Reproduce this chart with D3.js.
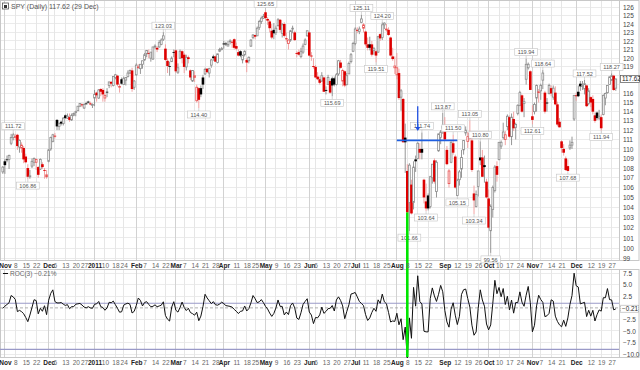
<!DOCTYPE html>
<html><head><meta charset="utf-8">
<script src="https://cdn.jsdelivr.net/npm/d3@7/dist/d3.min.js"></script>
<style>
body{margin:0;background:#fff}
svg{display:block}
text{font-family:"Liberation Sans",Arial,sans-serif}
</style></head>
<body><svg id="c" width="640" height="370"></svg>
<script>
// ---------------- DATA ----------------
const startDate = "2010-10-29", endDate = "2011-12-29";
const holidays = ["2010-11-25","2010-12-24","2011-01-17","2011-02-21","2011-04-22","2011-05-30","2011-07-04","2011-09-05","2011-11-24","2011-12-26"];
// closes of the 3 sessions before the first visible bar (needed by ROC(3))
const priorCloses = [108.2, 107.9, 108.1];
// [open, high, low, close]
const oct10 = [[107.6,108.2,107.4,108.1]];
const nov10 = [[108.7,108.9,107.4,108.3],[108.9,109.3,108.6,108.9],[108.9,109.4,107.9,109.3],[110.6,111.6,110.4,111.2],[111.2,111.72,110.9,111.5],[111.2,111.6,110.9,111.3],[111.5,111.6,109.9,110.3],[110.2,111.0,109.6,110.9],[110.1,110.7,109.6,110.4],[110.1,110.3,108.5,108.9],[109.2,109.5,108.5,108.6],[108.0,108.4,106.86,107.1],[107.1,107.8,106.9,107.2],[108.2,109.0,108.0,108.7],[108.6,109.1,108.2,109.0],[108.6,109.0,107.8,108.9],[108.1,108.2,107.0,107.3],[107.9,109.0,107.8,108.9],[108.4,108.6,107.9,108.1],[107.8,108.0,106.9,107.8],[107.1,107.8,106.9,107.3]];
const dec10 = [[108.7,110.0,108.6,109.9],[110.0,111.3,109.8,111.2],[110.8,111.6,110.7,111.5],[111.4,111.7,111.1,111.4],[113.1,113.2,112.0,112.4],[112.4,112.8,112.0,112.7],[112.9,113.0,112.5,112.7],[112.7,113.4,112.5,113.3],[113.6,113.7,113.2,113.3],[113.3,113.8,113.2,113.5],[113.4,113.8,112.9,113.1],[113.1,113.8,113.0,113.6],[113.6,113.9,113.5,113.8],[113.9,114.1,113.5,114.0],[114.1,114.6,114.1,114.6],[114.6,114.9,114.5,114.9],[114.8,114.9,114.5,114.7],[114.4,114.9,114.3,114.8],[114.9,115.1,114.8,114.9],[115.1,115.2,114.9,115.0],[114.9,115.1,114.7,114.8],[114.7,114.9,114.4,114.8]];
const jan11 = [[115.5,116.4,114.6,115.9],[116.1,116.2,115.1,115.8],[115.5,116.5,115.4,116.4],[116.5,116.6,115.7,116.2],[116.4,116.6,115.1,115.9],[115.5,116.0,115.1,115.8],[116.2,116.6,115.6,116.2],[116.9,117.3,116.6,117.3],[117.3,117.4,116.7,117.1],[116.9,117.9,116.8,117.9],[117.8,118.2,117.6,118.1],[118.0,118.1,116.8,117.0],[116.7,117.1,116.1,116.8],[117.6,117.8,117.0,117.1],[117.0,117.9,117.0,117.7],[117.5,117.8,116.9,117.8],[117.9,118.6,117.8,118.3],[118.3,118.7,118.2,118.6],[118.6,118.9,116.2,116.5],[116.7,117.5,116.4,117.4]];
const feb11 = [[118.1,119.4,118.0,119.2],[118.9,119.3,118.8,119.0],[118.8,119.3,118.2,119.3],[119.3,119.7,118.8,119.7],[119.8,120.6,119.7,120.4],[120.5,120.9,120.1,120.9],[120.6,121.0,120.0,120.6],[120.0,120.7,119.6,120.7],[119.9,121.3,119.8,121.3],[121.3,121.6,121.1,121.4],[121.2,121.4,120.7,121.0],[121.3,122.1,121.2,121.8],[121.6,122.3,121.5,122.1],[122.2,123.03,122.0,122.6],[121.1,121.6,119.7,119.8],[119.7,120.0,118.3,119.1],[119.1,119.6,118.0,119.1],[119.6,120.2,119.6,120.0],[120.7,121.0,120.1,120.7]];
const mar11 = [[120.9,121.0,118.3,118.5],[118.4,119.4,118.2,118.9],[120.0,121.0,119.9,120.8],[120.8,120.9,119.4,120.0],[120.4,120.6,118.3,119.0],[119.0,120.4,118.6,120.1],[120.1,120.3,119.4,119.9],[118.6,118.7,117.5,117.8],[117.4,118.6,117.3,118.6],[117.8,118.5,117.3,118.0],[115.2,117.0,115.0,116.7],[116.6,116.7,114.4,115.3],[116.6,116.9,115.6,115.9],[117.8,118.1,116.5,117.0],[118.2,118.9,118.1,118.7],[118.8,118.8,118.3,118.4],[118.3,118.9,117.8,118.8],[119.2,119.9,118.9,119.8],[120.2,120.4,119.7,120.0],[120.2,120.3,119.6,119.6],[119.5,120.5,119.4,120.5],[120.8,121.2,120.7,121.0],[121.0,121.3,120.9,121.1]];
const apr11 = [[121.7,122.0,121.1,121.6],[121.7,121.9,121.4,121.6],[121.4,122.0,121.4,121.6],[121.9,122.2,121.6,122.0],[121.9,122.1,121.2,121.8],[122.2,122.3,121.0,121.2],[121.4,121.8,120.9,121.1],[120.7,121.0,120.2,120.3],[120.8,120.9,120.1,120.3],[119.8,120.4,119.4,120.3],[120.4,120.9,120.2,120.8],[119.8,120.0,118.4,119.5],[119.7,120.2,119.4,120.1],[121.4,122.2,121.3,122.1],[122.4,122.8,122.2,122.7],[122.7,122.7,122.2,122.5],[122.6,123.7,122.6,123.5],[123.6,124.5,123.3,124.3],[124.3,124.9,124.0,124.7],[124.7,125.2,124.6,124.9]];
const may11 = [[125.4,125.65,124.5,124.7],[124.6,124.8,123.9,124.4],[124.3,124.5,123.0,123.5],[123.2,124.0,122.2,122.4],[123.3,124.1,122.2,122.9],[123.0,123.8,122.7,123.5],[123.8,124.7,123.7,124.5],[124.5,124.6,123.0,123.3],[122.9,124.1,122.4,123.9],[124.0,124.2,122.4,122.6],[122.3,123.0,121.9,122.2],[121.7,122.2,121.0,122.1],[122.1,123.3,121.9,123.2],[123.4,123.8,122.9,123.5],[123.0,123.2,122.0,122.1],[120.6,120.8,120.1,120.5],[120.7,121.0,120.3,120.4],[120.2,121.2,120.0,120.8],[120.7,121.7,120.5,121.4],[121.6,122.3,121.5,122.1],[122.6,123.2,122.5,123.2]];
const jun11 = [[123.0,123.1,120.2,120.3],[120.3,120.7,119.7,120.2],[119.1,120.0,118.8,119.0],[119.0,119.2,117.8,117.8],[117.9,118.4,117.5,117.6],[117.6,117.9,117.0,117.2],[117.4,118.4,117.3,118.0],[117.8,117.9,116.2,116.2],[116.4,116.8,115.9,116.3],[117.0,118.1,117.0,117.8],[117.4,117.6,116.0,116.1],[117.7,117.9,115.69,116.9],[117.7,117.9,116.8,117.0],[117.0,118.3,116.9,118.1],[118.2,119.8,118.0,119.7],[119.5,119.8,118.8,118.9],[117.4,118.8,116.8,118.6],[118.5,118.6,116.7,116.9],[117.0,118.3,116.9,118.0],[118.2,119.6,118.2,119.4],[119.6,120.6,119.4,120.4],[120.8,121.9,120.7,121.7]];
const jul11 = [[121.7,123.6,121.5,123.4],[123.3,123.6,122.9,123.3],[123.1,123.7,122.8,123.4],[124.2,125.11,124.1,124.6],[123.5,124.1,123.0,123.9],[123.1,123.2,121.4,121.6],[121.6,122.4,120.9,121.2],[121.6,122.5,120.9,121.2],[121.6,122.0,120.2,120.4],[120.9,121.3,120.4,121.1],[120.8,120.9,119.51,120.3],[120.7,122.6,120.6,122.5],[122.8,122.9,122.0,122.3],[122.4,124.2,122.1,123.9],[123.9,124.2,123.4,124.1],[123.3,124.0,123.1,123.4],[123.3,123.6,122.6,122.7],[122.4,122.5,120.2,120.3],[120.2,121.2,119.7,119.9],[118.9,120.2,118.2,119.1]];
const aug11 = [[118.1,120.6,117.6,118.9],[118.3,118.8,115.3,115.5],[115.6,116.5,114.1,116.3],[115.4,115.5,110.7,110.7],[111.2,112.7,107.5,110.7],[107.7,108.4,103.4,103.5],[104.5,108.5,101.66,108.3],[106.3,106.8,103.3,103.4],[104.5,108.7,103.8,108.1],[108.9,109.3,107.6,108.7],[109.0,110.7,108.9,110.6],[110.0,110.6,108.9,109.6],[110.0,111.74,108.9,109.6],[106.8,106.9,104.4,105.0],[104.6,106.4,103.64,103.9],[105.2,105.4,103.7,103.9],[104.1,107.2,103.9,107.1],[107.0,108.4,106.4,108.4],[108.8,109.0,106.4,106.6],[105.6,108.8,105.0,108.6],[109.8,111.6,109.7,111.6],[111.2,112.0,110.5,111.8],[112.2,113.87,111.6,112.4]];
const sep11 = [[112.4,113.4,110.9,111.0],[109.9,110.3,108.3,108.4],[106.4,107.9,106.0,107.7],[108.6,110.8,108.5,110.7],[110.6,111.5,109.4,109.6],[109.2,109.4,105.9,106.0],[105.2,106.9,105.15,106.7],[106.8,107.8,106.2,107.6],[107.9,109.9,107.0,109.1],[109.9,110.9,109.4,110.9],[111.7,112.4,111.4,112.0],[110.8,111.8,110.1,111.3],[111.7,113.05,110.9,111.1],[110.9,111.4,107.6,107.8],[105.4,106.2,103.34,104.7],[104.1,105.7,104.0,105.3],[106.1,107.7,105.1,107.7],[109.1,110.8,108.3,108.8],[109.1,109.9,107.1,107.1],[108.3,109.3,106.5,108.1],[106.6,106.9,104.9,105.0]];
const oct11 = [[104.9,105.8,101.9,102.0],[101.7,104.3,99.56,104.1],[103.8,106.2,103.0,106.0],[105.7,108.3,105.5,108.1],[108.2,108.7,106.6,107.3],[108.9,110.7,108.8,110.7],[110.3,110.9,110.0,110.7],[111.2,112.8,111.0,111.8],[111.0,111.9,110.4,111.5],[112.4,113.7,112.0,113.5],[113.4,113.6,111.2,111.3],[111.3,113.8,110.4,113.4],[113.2,114.0,111.9,112.2],[112.3,112.8,111.0,112.6],[113.8,114.8,113.6,114.7],[114.7,116.3,114.6,116.1],[115.8,115.9,113.9,114.0],[114.9,115.5,113.4,115.1],[117.6,119.94,117.0,119.3],[118.9,119.5,118.7,119.3],[118.5,118.6,116.4,116.4]];
const nov11 = [[113.5,114.7,112.61,113.1],[114.0,115.0,113.7,114.8],[115.5,117.0,114.0,116.9],[116.1,116.5,115.0,116.2],[116.3,117.1,115.3,116.9],[117.5,118.64,116.5,118.3],[116.1,116.3,113.8,114.0],[115.0,115.5,114.0,114.9],[116.0,117.1,115.9,116.9],[116.6,116.9,115.7,116.0],[115.6,116.9,115.3,116.6],[116.1,116.8,114.7,114.8],[114.8,115.1,112.4,112.6],[112.9,113.3,112.3,112.3],[110.8,110.9,109.6,110.1],[110.0,110.5,109.3,109.6],[109.0,109.2,107.7,107.8],[108.2,108.9,107.68,107.7],[110.1,110.9,109.9,110.4],[110.4,111.3,110.0,110.7],[113.2,115.8,113.0,115.8]];
const dec11 = [[115.8,116.1,115.2,115.7],[116.2,116.9,115.6,115.7],[117.1,117.4,116.3,116.8],[116.8,117.4,116.4,116.9],[116.5,117.52,115.9,117.1],[116.9,117.0,114.5,114.6],[114.9,116.6,114.7,116.3],[115.6,115.7,114.5,115.0],[115.4,115.8,113.7,114.0],[113.6,113.9,112.8,113.0],[113.9,114.0,113.1,113.3],[113.3,114.2,113.1,113.5],[113.4,113.7,111.94,112.2],[113.7,115.9,113.6,115.8],[115.5,116.1,114.7,116.0],[116.1,116.9,116.0,116.9],[117.0,117.9,117.0,117.87],[117.5,118.27,117.4,118.0],[118.0,118.1,116.3,116.4],[116.6,117.7,116.3,117.62]];

// price labels: [date, "H" high above / "L" low below]
const peakLabels = [["2010-11-05","H"],["2010-11-16","L"],["2011-02-18","H"],["2011-03-16","L"],["2011-05-02","H"],["2011-06-16","L"],["2011-07-07","H"],["2011-07-18","L"],["2011-07-21","H"],["2011-08-09","L"],["2011-08-17","H"],["2011-08-19","L"],["2011-08-31","H"],["2011-09-08","H"],["2011-09-12","L"],["2011-09-20","H"],["2011-09-22","L"],["2011-09-27","H"],["2011-10-04","L"],["2011-10-27","H"],["2011-11-01","L"],["2011-11-08","H"],["2011-11-25","L"],["2011-12-07","H"],["2011-12-19","L"],["2011-12-27","H"]];

// date axis tick labels
const xTicks = [["2010-11-01","Nov"],["2010-11-08","8"],["2010-11-15","15"],["2010-11-22","22"],["2010-12-01","Dec"],["2010-12-06","6"],["2010-12-13","13"],["2010-12-20","20"],["2010-12-27","27"],["2011-01-03","2011"],["2011-01-10","10"],["2011-01-18","18"],["2011-01-24","24"],["2011-02-01","Feb"],["2011-02-07","7"],["2011-02-14","14"],["2011-02-22","22"],["2011-03-01","Mar"],["2011-03-07","7"],["2011-03-14","14"],["2011-03-21","21"],["2011-03-28","28"],["2011-04-01","Apr"],["2011-04-11","11"],["2011-04-18","18"],["2011-04-25","25"],["2011-05-02","May"],["2011-05-09","9"],["2011-05-16","16"],["2011-05-23","23"],["2011-06-01","Jun"],["2011-06-06","6"],["2011-06-13","13"],["2011-06-20","20"],["2011-06-27","27"],["2011-07-01","Jul"],["2011-07-11","11"],["2011-07-18","18"],["2011-07-25","25"],["2011-08-01","Aug"],["2011-08-08","8"],["2011-08-15","15"],["2011-08-22","22"],["2011-09-01","Sep"],["2011-09-12","12"],["2011-09-19","19"],["2011-09-26","26"],["2011-10-03","Oct"],["2011-10-10","10"],["2011-10-17","17"],["2011-10-24","24"],["2011-11-01","Nov"],["2011-11-07","7"],["2011-11-14","14"],["2011-11-21","21"],["2011-12-01","Dec"],["2011-12-12","12"],["2011-12-19","19"],["2011-12-27","27"]];
const priceTicks = d3.range(99, 127);
const rocTicks = [-10, -7.5, -5, -2.5, 2.5, 5, 7.5];
const rocLevels = [1, -9];
// annotations
const blueLine = {from:"2011-08-01", to:"2011-09-12", price:110.9};
const blueArrow = {date:"2011-08-15", from:114.6, to:111.9};
const greenMark = {date:"2011-08-08", price:103.5};

// ---------------- BUILD ----------------
const parse = d3.utcParse("%Y-%m-%d"), fmt = d3.utcFormat("%Y-%m-%d");
const hol = new Set(holidays);
const dates = [];
for (let d = parse(startDate); d <= parse(endDate); d = d3.utcDay.offset(d, 1)) {
  const wd = d.getUTCDay(), s = fmt(d);
  if (wd > 0 && wd < 6 && !hol.has(s)) dates.push(s);
}
const rows = [].concat(oct10, nov10, dec10, jan11, feb11, mar11, apr11, may11, jun11, jul11, aug11, sep11, oct11, nov11, dec11);
const data = dates.map((d, i) => ({date:d, o:rows[i][0], h:rows[i][1], l:rows[i][2], c:rows[i][3]}));
const allC = priorCloses.concat(data.map(d => d.c));
data.forEach((d, i) => {
  d.prev = allC[i + 2];
  d.roc = (allC[i + 3] / allC[i] - 1) * 100;
});
const byDate = new Map(data.map(d => [d.date, d]));

const PL = 0, PR = 619, PT = 0, PB = 261, RT = 269, RB = 358;
const x = d3.scalePoint().domain(dates).range([2.8, 615.8]);
const y = d3.scaleLog().domain([100, 126]).range([248.3, 7.3]);
const yR = d3.scaleLinear().domain([-10, 7.5]).range([354, 273.3]);

const svg = d3.select("#c");
svg.append("rect").attr("width", 640).attr("height", 370).attr("fill", "#fff");
const defs = svg.append("defs");
defs.append("clipPath").attr("id", "cp").append("rect").attr("x", PL).attr("y", PT).attr("width", PR - PL).attr("height", PB - PT);
defs.append("clipPath").attr("id", "cr").append("rect").attr("x", PL).attr("y", RT).attr("width", PR - PL).attr("height", RB - RT);
defs.append("clipPath").attr("id", "ca").append("rect").attr("x", 0).attr("y", 0).attr("width", 640).attr("height", 370);

// gridlines
const isMonth = s => isNaN(+s) || s.length === 4;
const grid = svg.append("g");
priceTicks.forEach(v => grid.append("line").attr("x1", PL).attr("x2", PR).attr("y1", y(v)).attr("y2", y(v)).attr("stroke", "#ebebeb").attr("stroke-width", 1).attr("shape-rendering", "crispEdges"));
[-10, -7.5, -5, -2.5, 2.5, 5, 7.5].forEach(v => grid.append("line").attr("x1", PL).attr("x2", PR).attr("y1", yR(v)).attr("y2", yR(v)).attr("stroke", "#ebebeb").attr("shape-rendering", "crispEdges"));
xTicks.forEach(([d, s]) => {
  const m = isMonth(s);
  [[PT, PB], [RT, RB]].forEach(([a, b]) => grid.append("line").attr("x1", x(d)).attr("x2", x(d)).attr("y1", a).attr("y2", b)
    .attr("stroke", m ? "#d2d2d2" : "#e6e6e6").attr("stroke-width", 1).attr("shape-rendering", "crispEdges"));
});

// panel frames
[[PT, PB], [RT, RB]].forEach(([a, b]) => {
  svg.append("rect").attr("x", 0.5).attr("y", a + 0.5).attr("width", 638.5).attr("height", b - a - 1).attr("fill", "none").attr("stroke", "#c8c8c8");
  svg.append("line").attr("x1", PR + 0.5).attr("x2", PR + 0.5).attr("y1", a).attr("y2", b).attr("stroke", "#c8c8c8");
});

// candles
const cg = svg.append("g").attr("clip-path", "url(#cp)");
const bw = 2.6;
data.forEach(d => {
  const red = d.c < d.prev;
  const hollow = d.c > d.o;
  const cx = x(d.date);
  cg.append("line").attr("x1", cx).attr("x2", cx).attr("y1", y(d.h)).attr("y2", y(d.l))
    .attr("stroke", red ? "#f09a9a" : "#8a8a8a").attr("stroke-width", 0.9);
  const top = y(Math.max(d.o, d.c)), bot = y(Math.min(d.o, d.c));
  const hgt = Math.max(bot - top, 0.8);
  if (hollow) {
    cg.append("rect").attr("x", cx - bw / 2 + 0.4).attr("y", top).attr("width", bw - 0.8).attr("height", hgt)
      .attr("fill", "#fff").attr("stroke", red ? "#e85050" : "#8c8c8c").attr("stroke-width", 0.8);
  } else {
    cg.append("rect").attr("x", cx - bw / 2).attr("y", top).attr("width", bw).attr("height", hgt)
      .attr("fill", red ? "#dd0000" : "#000");
  }
});

// peak labels
const lg = svg.append("g");
peakLabels.forEach(([dt, k]) => {
  const d = byDate.get(dt);
  const v = k === "H" ? d.h : d.l;
  const txt = d3.format(".2f")(v);
  const w = txt.length * 3.3 + 3, h = 7;
  const cx = x(dt);
  let cy = k === "H" ? y(v) - 6.5 : y(v) + 6.5;
  cy = Math.max(cy, 4);
  lg.append("line").attr("x1", cx).attr("x2", cx).attr("y1", y(v)).attr("y2", cy).attr("stroke", "#bbb").attr("stroke-width", 0.6);
  lg.append("rect").attr("x", cx - w / 2).attr("y", cy - h / 2).attr("width", w).attr("height", h)
    .attr("fill", "#fff").attr("stroke", "#c4c4c4").attr("stroke-width", 0.6);
  lg.append("text").attr("x", cx).attr("y", cy + 2.2).attr("text-anchor", "middle").attr("font-size", 5.6).attr("fill", "#555").text(txt);
});

// blue annotations
svg.append("line").attr("x1", x(blueLine.from)).attr("x2", x(blueLine.to)).attr("y1", y(blueLine.price)).attr("y2", y(blueLine.price))
  .attr("stroke", "#1f5fe0").attr("stroke-width", 1.6);
const ax = x(blueArrow.date);
svg.append("line").attr("x1", ax).attr("x2", ax).attr("y1", y(blueArrow.from)).attr("y2", y(blueArrow.to) - 2).attr("stroke", "#1f4fe0").attr("stroke-width", 1.3);
svg.append("path").attr("d", `M${ax - 2.5},${y(blueArrow.to) - 4}L${ax + 2.5},${y(blueArrow.to) - 4}L${ax},${y(blueArrow.to)}Z`).attr("fill", "#1f4fe0");

// ROC panel
const rg = svg.append("g").attr("clip-path", "url(#cr)");
rocLevels.forEach(v => rg.append("line").attr("x1", PL).attr("x2", PR).attr("y1", yR(v)).attr("y2", yR(v)).attr("stroke", "#9a9ac8").attr("stroke-width", 1.1));
rg.append("line").attr("x1", PL).attr("x2", PR).attr("y1", yR(0)).attr("y2", yR(0)).attr("stroke", "#999").attr("stroke-dasharray", "3,2").attr("stroke-width", 0.8);
rg.append("path").datum(data).attr("fill", "none").attr("stroke", "#111").attr("stroke-width", 1)
  .attr("d", d3.line().x(d => x(d.date)).y(d => yR(d.roc)));

// green vertical marker
svg.append("line").attr("x1", x(greenMark.date)).attr("x2", x(greenMark.date)).attr("y1", y(greenMark.price)).attr("y2", RB - 1)
  .attr("stroke", "#00e600").attr("stroke-width", 2.6);

// last values
const last = data[data.length - 1];
const cyP = y(last.c), cyR = yR(last.roc);

// right axes (labels hidden where the last-value box sits)
const pa = svg.append("g").attr("transform", `translate(${PR + 2},0)`)
  .call(d3.axisRight(y).tickValues(priceTicks.filter(v => Math.abs(y(v) - cyP) > 7)).tickFormat(d3.format("d")).tickSize(0).tickPadding(2));
pa.select(".domain").remove();
pa.selectAll("text").attr("font-size", 6.5).attr("fill", "#444").attr("font-family", "Liberation Sans, Arial, sans-serif");
const ra = svg.append("g").attr("transform", `translate(${PR + 2},0)`)
  .call(d3.axisRight(yR).tickValues(rocTicks).tickFormat(d3.format(".1f")).tickSize(0).tickPadding(2));
ra.select(".domain").remove();
ra.selectAll("text").attr("font-size", 6.5).attr("fill", "#444").attr("font-family", "Liberation Sans, Arial, sans-serif");

svg.append("rect").attr("x", 620.5).attr("y", cyP - 3.5).attr("width", 19).attr("height", 7).attr("fill", "#fff").attr("stroke", "#555").attr("stroke-width", 0.7);
svg.append("text").attr("x", 622).attr("y", cyP + 2.2).attr("font-size", 6.3).attr("fill", "#222").text(d3.format(".2f")(last.c));
svg.append("rect").attr("x", 620.5).attr("y", cyR - 3.5).attr("width", 18).attr("height", 7).attr("fill", "#fff").attr("stroke", "#777").attr("stroke-dasharray", "1,1").attr("stroke-width", 0.7);
svg.append("text").attr("x", 622).attr("y", cyR + 2.2).attr("font-size", 6.3).attr("fill", "#222").text(d3.format(".2f")(last.roc));

// date axes
const tickMap = new Map(xTicks);
[PB, RB].forEach(yy => {
  const g = svg.append("g").attr("transform", `translate(0,${yy})`)
    .call(d3.axisBottom(x).tickValues(xTicks.map(t => t[0])).tickFormat(d => tickMap.get(d)).tickSize(0).tickPadding(2.5));
  g.select(".domain").remove();
  g.selectAll("text").attr("font-size", 6.5).attr("font-family", "Liberation Sans, Arial, sans-serif")
    .attr("font-weight", d => isMonth(tickMap.get(d)) ? "bold" : "normal")
    .attr("fill", d => isMonth(tickMap.get(d)) ? "#222" : "#666");
});

// titles
svg.append("rect").attr("x", 2.5).attr("y", 3).attr("width", 6).attr("height", 6).attr("fill", "#fff").attr("stroke", "#555").attr("stroke-width", 0.8);
svg.append("rect").attr("x", 4).attr("y", 5).attr("width", 3).attr("height", 3).attr("fill", "#333");
svg.append("text").attr("x", 11).attr("y", 8.5).attr("font-size", 7).attr("fill", "#555")
  .text(`SPY (Daily) ${d3.format(".2f")(last.c)} (29 Dec)`);
svg.append("line").attr("x1", 3).attr("x2", 8).attr("y1", 273.5).attr("y2", 273.5).attr("stroke", "#111");
svg.append("text").attr("x", 10).attr("y", 276).attr("font-size", 6.5).attr("fill", "#666")
  .text(`ROC(3) ${d3.format(".2f")(last.roc)}%`);
</script>
</body></html>
